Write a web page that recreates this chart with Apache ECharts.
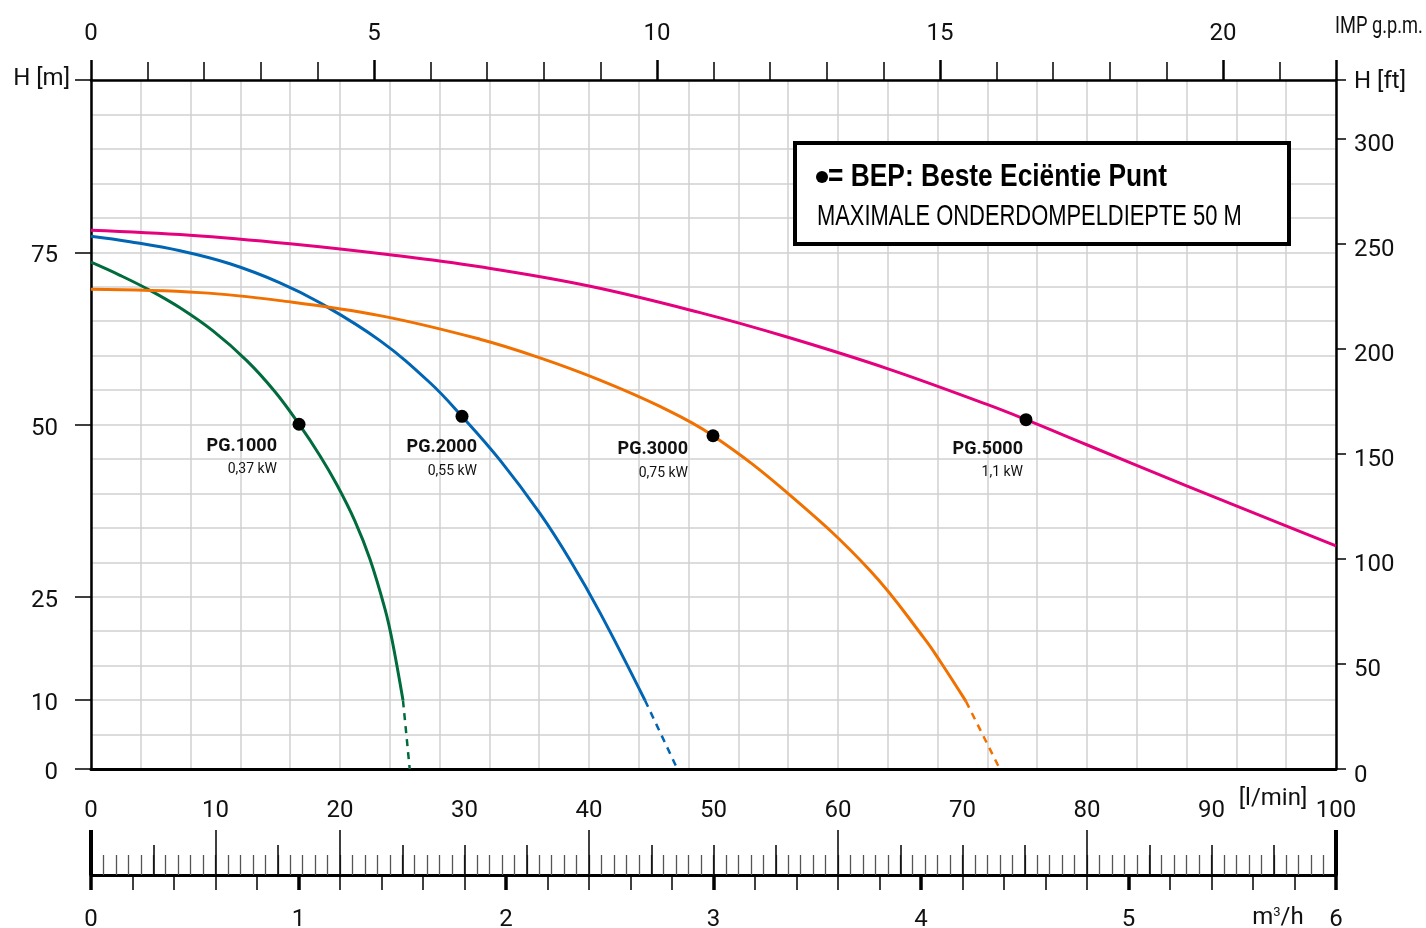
<!DOCTYPE html>
<html><head><meta charset="utf-8">
<script src="https://cdn.jsdelivr.net/npm/echarts@6/dist/echarts.min.js"></script>
<style>html,body{margin:0;padding:0;background:#fff}#c{width:1426px;height:928px}</style>
</head><body><div id="c"></div>
<script>
// ---- data (flow in l/min, head in m) ----
const pg1000Q = [0, 2.33, 4.74, 7.15, 9.8, 12.53, 14.78, 16.71, 18.39, 19.76, 21.2, 22.41, 23.61, 24.18, 25.06];
const pg1000H = [73.55, 71.65, 69.47, 66.94, 63.58, 59.24, 54.75, 50.04, 45.47, 41.22, 35.99, 30.44, 23.24, 18.76, 9.97];
const pg1000DashQ = [25.06, 25.6];
const pg1000DashH = [9.97, 0];

const pg2000Q = [0, 3.13, 7.15, 11.16, 15.18, 18.39, 23.21, 27.23, 29.8, 32.85, 36.06, 38.47, 40.88, 44.5];
const pg2000H = [77.33, 76.53, 75.22, 73.33, 70.57, 67.66, 62.17, 56.06, 51.18, 44.83, 37.09, 30.33, 22.70, 9.96];
const pg2000DashQ = [44.5, 47.1];
const pg2000DashH = [9.96, 0];

const pg3000Q = [0, 8.76, 15.18, 23.21, 31.24, 36.06, 40.88, 45.7, 49.96, 56.14, 62.57, 66.99, 68.19, 70.28];
const pg3000H = [69.62, 69.14, 67.98, 65.80, 62.38, 59.68, 56.45, 52.62, 48.37, 39.75, 28.82, 18.82, 15.67, 9.81];
const pg3000DashQ = [70.28, 73.0];
const pg3000DashH = [9.81, 0];

const pg5000Q = [0, 7.95, 15.98, 24.0, 31.24, 40.0, 48.92, 55.98, 64.02, 71.97, 75.1, 79.98, 88.0, 95.98, 100];
const pg5000H = [78.2, 77.48, 76.24, 74.64, 72.88, 70.1, 66.24, 62.66, 58.08, 52.91, 50.7, 47.06, 41.10, 35.28, 32.37];

const bepQ = [16.71, 29.8, 49.96, 75.1];
const bepH = [50.04, 51.18, 48.37, 50.7];

const pumpNames = ['PG.1000', 'PG.2000', 'PG.3000', 'PG.5000'];
const pumpPowers = ['0,37 kW', '0,55 kW', '0,75 kW', '1,1 kW'];
const pumpColors = ['#006b3c', '#0065b3', '#f07000', '#e5007d'];

const headTicksM = [0, 10, 25, 50, 75];
const headTickMarksM = [0, 10, 25, 50, 75, 100];
const tallRulerTicks = [10, 20, 40, 60, 80];
const rulerEnds = [0, 100];

const LMIN_MAX = 100, H_MAX = 100;
const GPM_MAX = LMIN_MAX / 4.546;
const FT_MAX = H_MAX / 0.3048;
const M3H_MAX = LMIN_MAX * 0.06;

const zip = (a, b) => a.map((v, i) => [v, b[i]]);

const NUMF = 'Roboto, "Noto Sans", sans-serif';
const numLabel = { color: '#111', fontSize: 24, fontFamily: NUMF };
const black = '#000';

const chart = echarts.init(document.getElementById('c'), null, { renderer: 'canvas' });

const hidden = { show: false };
const G0 = { left: 91, top: 80, width: 1245, height: 689 };

const xAxis = [
  { type: 'value', gridIndex: 0, position: 'bottom', min: 0, max: LMIN_MAX, interval: 10,
    axisLine: { show: true, onZero: false, lineStyle: { color: black, width: 3 } },
    axisTick: hidden, splitLine: hidden,
    axisLabel: Object.assign({ margin: 30 }, numLabel) },
  { type: 'value', gridIndex: 0, position: 'top', min: 0, max: GPM_MAX, interval: 5,
    axisLine: { show: true, onZero: false, lineStyle: { color: black, width: 2.5 } },
    axisTick: { show: true, length: 20, lineStyle: { color: black, width: 2.5 } },
    minorTick: { show: true, splitNumber: 5, length: 18, lineStyle: { color: black, width: 1.5 } },
    splitLine: hidden, minorSplitLine: hidden,
    axisLabel: Object.assign({ margin: 34,
      formatter: v => (Math.abs(v - Math.round(v)) < 1e-6 && Math.round(v) % 5 === 0) ? String(Math.round(v)) : '' }, numLabel) },
  { type: 'value', gridIndex: 0, position: 'bottom', min: 0, max: LMIN_MAX, interval: 4,
    axisLine: hidden, axisTick: hidden, axisLabel: hidden,
    splitLine: { show: true, lineStyle: { color: '#d0d0d0', width: 1.5 } } },
  { type: 'value', gridIndex: 1, position: 'bottom', min: 0, max: LMIN_MAX, interval: 1,
    axisLine: { show: true, onZero: false, lineStyle: { color: black, width: 3 } },
    axisTick: { show: true, inside: true, length: 20, lineStyle: { color: '#555', width: 1.3 } },
    axisLabel: hidden, splitLine: hidden },
  { type: 'value', gridIndex: 1, position: 'bottom', min: 0, max: LMIN_MAX, interval: 5,
    axisLine: { show: false, onZero: false },
    axisTick: { show: true, inside: true, length: 30, lineStyle: { color: black, width: 1.5 } },
    axisLabel: hidden, splitLine: hidden },
  { type: 'value', gridIndex: 1, position: 'bottom', min: 0, max: LMIN_MAX,
    axisLine: { show: false, onZero: false },
    axisTick: { show: true, inside: true, length: 45, customValues: tallRulerTicks, lineStyle: { color: black, width: 1.5 } },
    axisLabel: hidden, splitLine: hidden },
  { type: 'value', gridIndex: 1, position: 'bottom', min: 0, max: LMIN_MAX,
    axisLine: { show: false, onZero: false },
    axisTick: { show: true, inside: true, length: 45, customValues: rulerEnds, lineStyle: { color: black, width: 4 } },
    axisLabel: hidden, splitLine: hidden },
  { type: 'value', gridIndex: 1, position: 'bottom', min: 0, max: M3H_MAX, interval: 0.2,
    axisLine: { show: false, onZero: false },
    axisTick: { show: true, inside: false, length: 15, lineStyle: { color: black, width: 1.5 } },
    axisLabel: hidden, splitLine: hidden },
  { type: 'value', gridIndex: 1, position: 'bottom', min: 0, max: M3H_MAX, interval: 1,
    axisLine: { show: false, onZero: false },
    axisTick: { show: true, inside: false, length: 15, lineStyle: { color: black, width: 3.5 } },
    axisLabel: Object.assign({ margin: 33 }, numLabel), splitLine: hidden }
];

const yAxis = [
  { type: 'value', gridIndex: 0, position: 'left', min: 0, max: H_MAX,
    axisLine: { show: true, onZero: false, lineStyle: { color: black, width: 2.5 } },
    axisTick: { show: true, length: 16, customValues: headTickMarksM, lineStyle: { color: black, width: 1.5 } },
    axisLabel: Object.assign({ margin: 33, customValues: headTicksM,
      formatter: v => '{v|' + v + '}',
      rich: { v: { fontSize: 24, fontFamily: NUMF, color: '#111', padding: [8, 0, 0, 0] } } }, numLabel),
    splitLine: hidden },
  { type: 'value', gridIndex: 0, position: 'right', min: 0, max: FT_MAX, interval: 50,
    axisLine: { show: true, onZero: false, lineStyle: { color: black, width: 2.5 } },
    axisTick: { show: true, length: 10, lineStyle: { color: black, width: 1.5 } },
    axisLabel: Object.assign({ margin: 18, padding: [13, 0, 0, 0], formatter: v => v > 310 ? '{h|H [ft]}' : String(v),
      rich: { h: { fontSize: 24, fontFamily: NUMF, color: '#111', padding: [0, 0, 9, 0] } } }, numLabel),
    splitLine: hidden },
  { type: 'value', gridIndex: 0, position: 'left', min: 0, max: H_MAX, interval: 5,
    axisLine: hidden, axisTick: hidden, axisLabel: hidden,
    splitLine: { show: true, lineStyle: { color: '#d0d0d0', width: 1.5 } } },
  { type: 'value', gridIndex: 1, min: 0, max: 1, show: false }
];

const series = [];
const solidQ = [pg1000Q, pg2000Q, pg3000Q, pg5000Q];
const solidH = [pg1000H, pg2000H, pg3000H, pg5000H];
const dashQ = [pg1000DashQ, pg2000DashQ, pg3000DashQ, null];
const dashH = [pg1000DashH, pg2000DashH, pg3000DashH, null];
for (let i = 0; i < 4; i++) {
  series.push({ type: 'line', name: pumpNames[i], xAxisIndex: 0, yAxisIndex: 0,
    data: zip(solidQ[i], solidH[i]), smooth: 0.4, symbol: 'none',
    lineStyle: { color: pumpColors[i], width: 3 }, z: 5, silent: true });
  if (dashQ[i]) series.push({ type: 'line', xAxisIndex: 0, yAxisIndex: 0,
    data: zip(dashQ[i], dashH[i]), symbol: 'none',
    lineStyle: { color: pumpColors[i], width: 2.5, type: [7, 6] }, z: 5, silent: true });
}
series.push({ type: 'scatter', xAxisIndex: 0, yAxisIndex: 0, data: zip(bepQ, bepH),
  symbol: 'circle', symbolSize: 13, itemStyle: { color: '#000', opacity: 1 }, z: 10, silent: true });

const labelRight = [277, 477, 688, 1023];
const labelTopY = [446, 447, 449, 449];
const labelSubY = [469, 471, 473, 472];
const graphic = [];
for (let i = 0; i < 4; i++) {
  graphic.push({ type: 'text', x: labelRight[i], y: labelTopY[i], z: 20,
    style: { text: pumpNames[i], fill: '#111', font: 'bold 18px ' + NUMF, textAlign: 'right', textVerticalAlign: 'middle' } });
  graphic.push({ type: 'text', x: labelRight[i], y: labelSubY[i], z: 20,
    style: { text: pumpPowers[i], fill: '#111', font: '14px ' + NUMF, textAlign: 'right', textVerticalAlign: 'middle' } });
}
graphic.push({ type: 'rect', z: 30, shape: { x: 795, y: 143, width: 494, height: 101 },
  style: { fill: '#fff', stroke: '#000', lineWidth: 4 } });
graphic.push({ type: 'circle', z: 31, shape: { cx: 822, cy: 177, r: 6 }, style: { fill: '#000' } });
graphic.push({ type: 'text', z: 31, x: 828, y: 177, scaleX: 0.85,
  style: { text: '= BEP: Beste Eciëntie Punt', fill: '#000', font: 'bold 31px "Liberation Sans", Arial, sans-serif', textVerticalAlign: 'middle' } });
graphic.push({ type: 'text', z: 31, x: 817, y: 217, scaleX: 0.73,
  style: { text: 'MAXIMALE ONDERDOMPELDIEPTE 50 M', fill: '#000', font: '30px "Liberation Sans", Arial, sans-serif', textVerticalAlign: 'middle' } });
graphic.push({ type: 'text', x: 70, y: 79, style: { text: 'H [m]', fill: '#111', font: '24px ' + NUMF, textAlign: 'right', textVerticalAlign: 'middle' } });
graphic.push({ type: 'text', x: 1335, y: 27, scaleX: 0.76, style: { text: 'IMP g.p.m.', fill: '#111', font: '24px ' + NUMF, textAlign: 'left', textVerticalAlign: 'middle' } });
graphic.push({ type: 'text', x: 1273, y: 799, style: { text: '[l/min]', fill: '#111', font: '24px ' + NUMF, textAlign: 'center', textVerticalAlign: 'middle' } });
graphic.push({ type: 'text', x: 1278, y: 918, style: { text: '{a|m}{s|3}{a|/h}', textAlign: 'center', textVerticalAlign: 'middle',
  rich: { a: { fill: '#111', font: '24px ' + NUMF }, s: { fill: '#111', font: '13px ' + NUMF, verticalAlign: 'top', padding: [0, 0, 10, 0] } } } });

chart.setOption({
  backgroundColor: '#fff',
  animation: false,
  grid: [
    Object.assign({ outerBoundsMode: 'none' }, G0),
    { left: 91, top: 830, width: 1245, height: 45, outerBoundsMode: 'none' }
  ],
  xAxis, yAxis, series, graphic
});
</script></body></html>
